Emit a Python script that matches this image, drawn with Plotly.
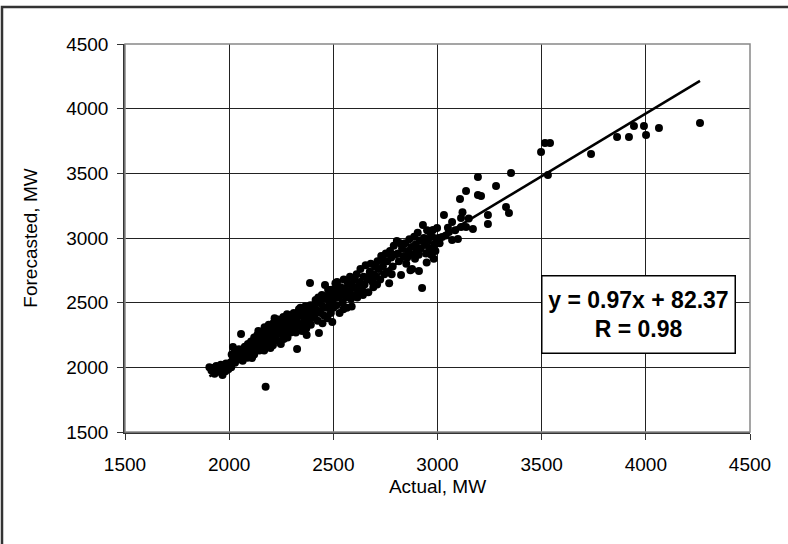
import plotly.graph_objects as go

# Actual (x) and forecasted (y) load, MW
actual = [
    1905, 1915, 1922, 1930, 1938, 1945, 1952, 1960, 1968, 1975, 1982, 1990, 1996, 1985, 1958,
    2003, 2008, 2012, 2018, 2022, 2028, 2033, 2038, 2042, 2047, 2052, 2057, 2060, 2065, 2070,
    2075, 2080, 2085, 2090, 2095, 2100, 2010, 2025, 2045, 2068, 2088, 2110,
    2105, 2110, 2115, 2120, 2125, 2130, 2135, 2140, 2145, 2150, 2155, 2160, 2165, 2170, 2175,
    2178, 2182, 2186, 2190, 2195, 2198, 2120, 2150, 2168, 2185, 2140,
    2202, 2207, 2212, 2216, 2220, 2225, 2230, 2235, 2240, 2245, 2250, 2255, 2260, 2265, 2270,
    2275, 2280, 2285, 2290, 2295, 2300, 2210, 2228, 2248, 2262, 2278, 2292, 2238, 2218,
    2305, 2310, 2315, 2320, 2325, 2326, 2330, 2335, 2340, 2345, 2350, 2355, 2360, 2365, 2370,
    2375, 2380, 2385, 2388, 2390, 2395, 2400, 2318, 2342, 2358, 2372, 2392,
    2405, 2410, 2415, 2420, 2425, 2431, 2435, 2440, 2445, 2450, 2455, 2460, 2462, 2468, 2472,
    2478, 2482, 2488, 2492, 2497, 2500, 2412, 2428, 2448, 2475, 2495,
    2505, 2510, 2515, 2520, 2525, 2530, 2535, 2540, 2545, 2550, 2555, 2560, 2565, 2570, 2575,
    2580, 2585, 2590, 2595, 2600, 2518, 2548, 2572, 2588,
    2605, 2612, 2618, 2625, 2630, 2638, 2645, 2650, 2655, 2662, 2668, 2675, 2680, 2688, 2695,
    2700, 2615, 2642, 2670, 2692,
    2705, 2712, 2718, 2725, 2730, 2738, 2745, 2752, 2758, 2765, 2772, 2778, 2780, 2785, 2790,
    2795, 2805, 2710, 2740, 2768,
    2810, 2815, 2825, 2830, 2838, 2845, 2850, 2858, 2865, 2870, 2875, 2878, 2882, 2888, 2895,
    2900, 2820, 2855, 2892,
    2905, 2911, 2915, 2920, 2926, 2930, 2935, 2940, 2945, 2950, 2955, 2960, 2965, 2970, 2975,
    2978, 2985, 2990, 2998, 2910, 2948, 2982,
    3005, 3010, 3022, 3031, 3040, 3055, 3070, 3070, 3085, 3098, 3108, 3113, 3113, 3137, 3137,
    3150, 3170, 3194, 3194, 3209, 3050, 3120,
    3242, 3242, 3281, 3329, 3343, 3353, 3497, 3516, 3540, 3530, 3737, 3862, 3919, 3943, 3991,
    4001, 4063, 4260,
]
forecasted = [
    2000, 1975, 1995, 1950, 2010, 1985, 1965, 2020, 1940, 1995, 1970, 2015, 1985, 2030, 1990,
    2010, 2040, 2100, 2157, 2070, 2035, 2090, 2120, 2060, 2140, 2085, 2258, 2110, 2050, 2130,
    2160, 2095, 2140, 2180, 2120, 2160, 2000, 2110, 2100, 2080, 2075, 2072,
    2200, 2140, 2180, 2230, 2160, 2210, 2250, 2190, 2130, 2220, 2270, 2200, 2240, 2310, 1850,
    2180, 2260, 2220, 2330, 2290, 2150, 2100, 2170, 2130, 2300, 2280,
    2250, 2200, 2340, 2280, 2230, 2310, 2260, 2370, 2200, 2300, 2340, 2250, 2390, 2320, 2280,
    2350, 2230, 2400, 2310, 2270, 2360, 2170, 2320, 2180, 2220, 2410, 2380, 2290, 2380,
    2300, 2420, 2350, 2270, 2380, 2141, 2320, 2450, 2400, 2330, 2280, 2420, 2360, 2470, 2300,
    2400, 2440, 2340, 2652, 2480, 2380, 2430, 2400, 2460, 2310, 2250, 2330,
    2480, 2390, 2520, 2440, 2360, 2265, 2500, 2420, 2560, 2470, 2400, 2637, 2530, 2460, 2380,
    2560, 2490, 2420, 2600, 2520, 2460, 2460, 2540, 2340, 2600, 2350,
    2560, 2650, 2480, 2600, 2540, 2420, 2620, 2580, 2500, 2680, 2610, 2540, 2460, 2650, 2590,
    2700, 2530, 2630, 2560, 2680, 2660, 2450, 2560, 2470,
    2620, 2720, 2580, 2660, 2760, 2600, 2700, 2640, 2790, 2680, 2580, 2740, 2800, 2660, 2720,
    2780, 2540, 2560, 2700, 2620,
    2700, 2820, 2760, 2680, 2860, 2780, 2720, 2880, 2820, 2740, 2900, 2850, 2720, 2780, 2940,
    2870, 2977, 2640, 2830, 2650,
    2880, 2820, 2714, 2920, 2860, 2960, 2800, 2900, 2990, 2750, 2930, 2760, 2870, 3010, 2950,
    2900, 2960, 2850, 2840,
    3040, 2745, 2980, 2920, 2613, 3100, 3000, 2950, 2880, 3060, 2990, 2920, 3040, 2870, 3010,
    3062, 2950, 2900, 3077, 2870, 2810, 2840,
    3000, 2960, 3008, 3178, 3020, 3046, 3124, 2985, 3060, 2992, 3301, 3155, 3085, 3363, 3085,
    3150, 3070, 3472, 3332, 3325, 3080, 3200,
    3178, 3108, 3402, 3240, 3193, 3503, 3665, 3735, 3735, 3487, 3650, 3781, 3781, 3866, 3866,
    3796, 3850, 3889,
]

slope = 0.97
intercept = 82.37
r_value = 0.98

x_ticks = [1500, 2000, 2500, 3000, 3500, 4000, 4500]
y_ticks = [1500, 2000, 2500, 3000, 3500, 4000, 4500]

font_family = "Arial, Liberation Sans, sans-serif"

fig = go.Figure()
fig.add_trace(go.Scatter(
    x=actual, y=forecasted, mode="markers",
    marker=dict(color="black", size=8, line=dict(width=0)),
    showlegend=False, hoverinfo="x+y",
))

x_line = [min(actual), max(actual)]
y_line = [slope * v + intercept for v in x_line]
fig.add_trace(go.Scatter(
    x=x_line, y=y_line, mode="lines",
    line=dict(color="black", width=2.5),
    showlegend=False, hoverinfo="skip",
))

axis_common = dict(
    showgrid=True, gridcolor="#222222", gridwidth=1,
    showline=True, linecolor="#333333", linewidth=1.5,
    ticks="outside", ticklen=6, tickcolor="#333333", tickwidth=1,
    zeroline=False, mirror=False,
    tickfont=dict(family=font_family, size=19, color="black"),
)

fig.update_xaxes(
    range=[1500, 4500], tickvals=x_ticks, ticktext=[str(v) for v in x_ticks],
    title=dict(text="Actual, MW", font=dict(family=font_family, size=19, color="black"), standoff=6),
    ticklabelstandoff=8,
    **axis_common,
)
fig.update_yaxes(
    range=[1500, 4500], tickvals=y_ticks, ticktext=[str(v) for v in y_ticks],
    title=dict(text="Forecasted, MW", font=dict(family=font_family, size=19, color="black"), standoff=24),
    ticklabelstandoff=5,
    **axis_common,
)

# plot frame (top/right edges) and outer chart border
fig.add_shape(type="rect", xref="paper", yref="paper", x0=0, x1=1, y0=0, y1=1,
              line=dict(color="#888888", width=1.5), layer="above")
fig.add_shape(type="rect", xref="paper", yref="paper",
              x0=-0.1968, x1=1.3, y0=-0.5, y1=1.0954,
              line=dict(color="#333333", width=2.5), layer="above")

fig.add_annotation(
    xref="paper", yref="paper", x=0.821, y=0.302, xanchor="center", yanchor="middle",
    text=f"<b>y = {slope:.2f}x + {intercept:.2f}</b><br><b>R = {r_value:.2f}</b>",
    showarrow=False, align="center", valign="middle",
    width=186, height=70,
    font=dict(family=font_family, size=23, color="black"),
    bgcolor="white", bordercolor="black", borderwidth=1.5, borderpad=3,
)

fig.update_layout(
    width=788, height=544,
    margin=dict(l=125, r=38, t=44, b=112),
    plot_bgcolor="white", paper_bgcolor="white",
    font=dict(family=font_family, color="black"),
)

fig.write_html("out.html", config={"displayModeBar": False},
               post_script="document.body.style.margin='0';")
